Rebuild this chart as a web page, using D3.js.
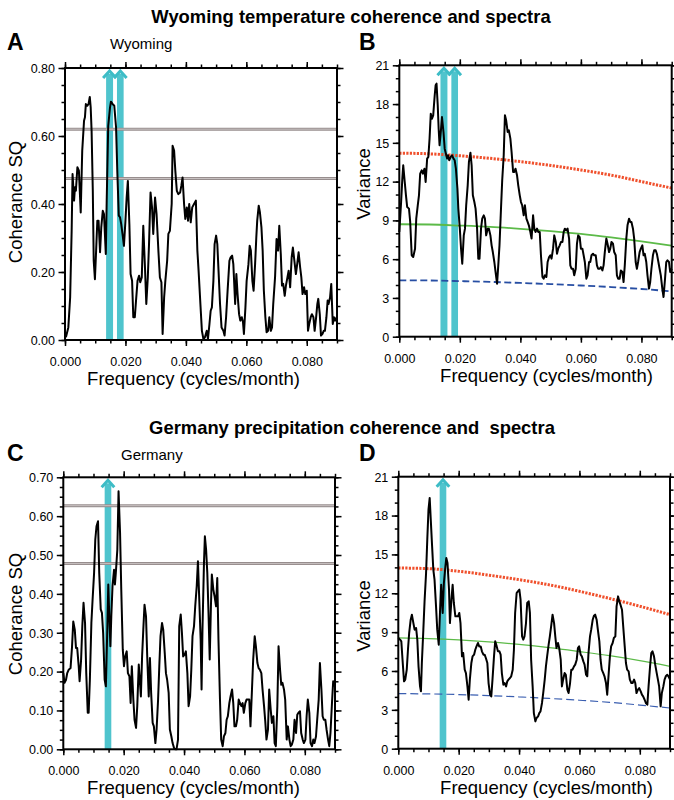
<!DOCTYPE html>
<html>
<head>
<meta charset="utf-8">
<script src="https://cdn.jsdelivr.net/npm/d3@7"></script>
<style>
  body { margin: 0; background: #fff; }
  text { font-family: "Liberation Sans", Arial, Helvetica, sans-serif; }
</style>
</head>
<body>
<div id="plot"></div>
<script>
// ---- Data: [frequency (cycles/month), value] ----
var wyoCoh = [[0.0003,0.008],[0.0011,0.037],[0.0017,0.125],[0.0022,0.321],[0.0025,0.488],[0.0030,0.410],[0.0033,0.449],[0.0036,0.439],[0.0041,0.508],[0.0046,0.498],[0.0052,0.375],[0.0057,0.557],[0.0063,0.645],[0.0066,0.655],[0.0069,0.694],[0.0074,0.689],[0.0078,0.694],[0.0082,0.715],[0.0085,0.684],[0.0088,0.615],[0.0092,0.439],[0.0095,0.233],[0.0099,0.179],[0.0103,0.263],[0.0107,0.351],[0.0111,0.351],[0.0116,0.258],[0.0120,0.331],[0.0125,0.380],[0.0129,0.370],[0.0135,0.253],[0.0138,0.410],[0.0143,0.630],[0.0149,0.684],[0.0152,0.701],[0.0158,0.694],[0.0163,0.689],[0.0169,0.625],[0.0173,0.498],[0.0178,0.366],[0.0182,0.361],[0.0186,0.341],[0.0191,0.307],[0.0195,0.277],[0.0200,0.351],[0.0204,0.419],[0.0208,0.468],[0.0213,0.341],[0.0217,0.194],[0.0222,0.174],[0.0226,0.067],[0.0231,0.067],[0.0235,0.116],[0.0240,0.174],[0.0245,0.189],[0.0249,0.170],[0.0254,0.184],[0.0259,0.336],[0.0265,0.204],[0.0269,0.106],[0.0274,0.184],[0.0278,0.282],[0.0283,0.434],[0.0288,0.390],[0.0292,0.312],[0.0298,0.419],[0.0303,0.370],[0.0309,0.263],[0.0314,0.184],[0.0319,0.170],[0.0323,0.018],[0.0328,0.125],[0.0332,0.174],[0.0338,0.233],[0.0342,0.312],[0.0347,0.321],[0.0353,0.400],[0.0356,0.571],[0.0361,0.557],[0.0365,0.498],[0.0370,0.439],[0.0375,0.429],[0.0381,0.434],[0.0385,0.454],[0.0389,0.478],[0.0394,0.400],[0.0398,0.356],[0.0403,0.390],[0.0407,0.351],[0.0411,0.400],[0.0416,0.346],[0.0421,0.390],[0.0427,0.400],[0.0433,0.410],[0.0438,0.263],[0.0442,0.204],[0.0448,0.106],[0.0453,0.027],[0.0458,0.003],[0.0463,0.008],[0.0469,0.027],[0.0473,0.003],[0.0478,0.047],[0.0482,0.086],[0.0486,0.096],[0.0491,0.174],[0.0495,0.282],[0.0500,0.307],[0.0504,0.282],[0.0508,0.204],[0.0513,0.106],[0.0518,0.037],[0.0524,0.027],[0.0528,0.013],[0.0533,0.067],[0.0538,0.145],[0.0544,0.233],[0.0548,0.243],[0.0553,0.248],[0.0557,0.223],[0.0563,0.106],[0.0567,0.194],[0.0571,0.135],[0.0576,0.076],[0.0580,0.057],[0.0585,0.067],[0.0589,0.052],[0.0592,0.018],[0.0597,0.096],[0.0601,0.174],[0.0607,0.223],[0.0611,0.277],[0.0615,0.263],[0.0620,0.174],[0.0624,0.145],[0.0629,0.223],[0.0633,0.302],[0.0636,0.351],[0.0641,0.395],[0.0645,0.375],[0.0650,0.331],[0.0654,0.263],[0.0658,0.145],[0.0663,0.067],[0.0667,0.023],[0.0672,0.027],[0.0676,0.067],[0.0681,0.027],[0.0685,0.037],[0.0689,0.106],[0.0695,0.184],[0.0700,0.297],[0.0705,0.263],[0.0709,0.336],[0.0714,0.253],[0.0718,0.160],[0.0722,0.165],[0.0727,0.130],[0.0731,0.160],[0.0736,0.184],[0.0740,0.204],[0.0745,0.155],[0.0750,0.243],[0.0754,0.272],[0.0759,0.233],[0.0764,0.194],[0.0769,0.228],[0.0773,0.258],[0.0778,0.214],[0.0782,0.184],[0.0786,0.135],[0.0791,0.155],[0.0795,0.135],[0.0800,0.145],[0.0804,0.027],[0.0808,0.047],[0.0813,0.067],[0.0817,0.076],[0.0822,0.067],[0.0826,0.027],[0.0831,0.067],[0.0835,0.106],[0.0838,0.121],[0.0843,0.076],[0.0847,0.013],[0.0852,0.018],[0.0856,0.027],[0.0860,0.027],[0.0865,0.067],[0.0869,0.116],[0.0872,0.106],[0.0877,0.125],[0.0881,0.165],[0.0886,0.047],[0.0890,0.067],[0.0894,0.057],[0.0899,0.067]];

var wyoSpec = [[0.0000,8.10],[0.0006,10.42],[0.0010,12.23],[0.0013,13.26],[0.0018,11.97],[0.0022,10.94],[0.0026,10.04],[0.0032,9.91],[0.0036,8.88],[0.0041,6.30],[0.0046,6.17],[0.0052,6.81],[0.0056,9.13],[0.0061,10.17],[0.0065,10.94],[0.0069,12.62],[0.0074,12.87],[0.0078,12.62],[0.0083,13.00],[0.0087,11.97],[0.0092,13.78],[0.0096,13.91],[0.0100,15.33],[0.0104,17.26],[0.0108,16.87],[0.0112,17.13],[0.0117,18.68],[0.0120,19.45],[0.0123,19.58],[0.0127,17.91],[0.0130,16.10],[0.0133,14.81],[0.0138,16.10],[0.0141,17.00],[0.0146,15.84],[0.0150,14.55],[0.0154,14.16],[0.0158,13.78],[0.0161,14.04],[0.0165,13.65],[0.0170,13.91],[0.0174,14.04],[0.0179,13.78],[0.0183,13.65],[0.0187,13.00],[0.0192,11.46],[0.0195,9.91],[0.0200,8.36],[0.0204,6.81],[0.0208,5.65],[0.0213,7.84],[0.0217,8.36],[0.0221,10.17],[0.0226,11.71],[0.0230,13.52],[0.0235,14.24],[0.0239,13.26],[0.0243,10.94],[0.0248,10.42],[0.0252,9.91],[0.0257,8.36],[0.0261,6.04],[0.0265,6.04],[0.0270,8.36],[0.0274,9.13],[0.0279,9.39],[0.0283,9.13],[0.0287,7.84],[0.0292,8.36],[0.0296,8.36],[0.0301,7.84],[0.0305,7.07],[0.0309,6.55],[0.0314,5.78],[0.0318,5.01],[0.0323,4.10],[0.0327,5.52],[0.0331,7.07],[0.0336,9.91],[0.0340,12.10],[0.0345,14.04],[0.0349,17.13],[0.0353,16.74],[0.0358,15.84],[0.0362,15.97],[0.0367,15.33],[0.0371,14.29],[0.0376,12.75],[0.0380,12.75],[0.0384,13.00],[0.0389,12.49],[0.0393,11.71],[0.0398,10.94],[0.0402,10.42],[0.0406,10.17],[0.0411,9.39],[0.0415,10.17],[0.0420,9.13],[0.0424,8.88],[0.0428,8.62],[0.0433,8.10],[0.0437,7.59],[0.0442,9.39],[0.0446,8.36],[0.0450,8.10],[0.0455,8.36],[0.0459,8.10],[0.0464,8.10],[0.0468,6.30],[0.0473,4.62],[0.0477,4.49],[0.0481,4.75],[0.0486,4.62],[0.0490,5.78],[0.0495,6.17],[0.0499,6.30],[0.0503,6.04],[0.0508,6.81],[0.0512,7.84],[0.0517,7.33],[0.0521,6.42],[0.0525,6.81],[0.0530,7.07],[0.0534,7.33],[0.0539,7.33],[0.0543,8.10],[0.0547,8.36],[0.0552,8.23],[0.0556,8.36],[0.0561,7.59],[0.0565,5.52],[0.0569,5.26],[0.0574,5.26],[0.0578,4.75],[0.0583,5.26],[0.0587,7.20],[0.0591,7.84],[0.0596,7.71],[0.0600,6.81],[0.0605,6.81],[0.0609,6.30],[0.0613,5.78],[0.0618,4.49],[0.0622,4.75],[0.0627,5.78],[0.0631,5.78],[0.0635,6.30],[0.0640,6.42],[0.0644,6.30],[0.0649,6.30],[0.0653,5.52],[0.0657,5.26],[0.0662,5.26],[0.0666,5.39],[0.0671,5.13],[0.0675,5.52],[0.0679,6.55],[0.0684,7.59],[0.0688,7.20],[0.0693,6.55],[0.0697,6.81],[0.0701,7.33],[0.0706,7.20],[0.0710,6.55],[0.0715,6.30],[0.0719,4.75],[0.0723,4.49],[0.0728,4.49],[0.0732,5.13],[0.0737,5.01],[0.0741,4.23],[0.0745,5.52],[0.0750,7.59],[0.0754,8.62],[0.0759,9.13],[0.0763,8.88],[0.0767,8.88],[0.0772,8.36],[0.0776,7.59],[0.0781,5.78],[0.0785,5.26],[0.0789,5.78],[0.0794,6.55],[0.0798,6.81],[0.0803,7.07],[0.0807,6.30],[0.0811,6.42],[0.0816,5.78],[0.0820,4.75],[0.0825,3.72],[0.0829,4.23],[0.0833,5.26],[0.0838,6.30],[0.0842,6.68],[0.0847,6.68],[0.0851,6.42],[0.0856,5.78],[0.0860,5.26],[0.0864,4.75],[0.0869,3.72],[0.0873,3.07],[0.0878,4.49],[0.0882,5.78],[0.0886,5.91],[0.0891,5.78],[0.0895,5.01],[0.0900,5.26]];

var gerCoh = [[0.0000,0.196],[0.0004,0.171],[0.0009,0.179],[0.0013,0.196],[0.0018,0.205],[0.0024,0.209],[0.0029,0.265],[0.0033,0.329],[0.0038,0.308],[0.0042,0.261],[0.0046,0.261],[0.0051,0.214],[0.0054,0.175],[0.0059,0.231],[0.0063,0.317],[0.0067,0.377],[0.0072,0.325],[0.0076,0.196],[0.0081,0.094],[0.0084,0.094],[0.0088,0.179],[0.0093,0.325],[0.0097,0.385],[0.0102,0.454],[0.0106,0.540],[0.0110,0.574],[0.0115,0.587],[0.0119,0.454],[0.0124,0.360],[0.0128,0.351],[0.0132,0.299],[0.0137,0.179],[0.0141,0.162],[0.0146,0.317],[0.0149,0.424],[0.0152,0.351],[0.0156,0.265],[0.0159,0.342],[0.0163,0.420],[0.0168,0.462],[0.0171,0.424],[0.0174,0.454],[0.0179,0.514],[0.0183,0.664],[0.0188,0.557],[0.0192,0.411],[0.0197,0.257],[0.0201,0.214],[0.0205,0.239],[0.0210,0.252],[0.0214,0.196],[0.0219,0.188],[0.0223,0.119],[0.0227,0.214],[0.0232,0.128],[0.0236,0.076],[0.0241,0.055],[0.0245,0.111],[0.0250,0.218],[0.0254,0.171],[0.0257,0.136],[0.0261,0.239],[0.0265,0.308],[0.0269,0.372],[0.0274,0.342],[0.0278,0.239],[0.0283,0.136],[0.0287,0.235],[0.0291,0.145],[0.0296,0.068],[0.0300,0.059],[0.0305,0.016],[0.0309,0.051],[0.0314,0.128],[0.0318,0.214],[0.0322,0.291],[0.0327,0.325],[0.0331,0.308],[0.0336,0.248],[0.0340,0.196],[0.0344,0.179],[0.0349,0.145],[0.0353,0.051],[0.0358,0.033],[0.0362,0.016],[0.0367,0.003],[0.0371,0.000],[0.0375,0.000],[0.0380,0.025],[0.0384,0.317],[0.0389,0.347],[0.0393,0.299],[0.0397,0.239],[0.0402,0.244],[0.0406,0.252],[0.0411,0.196],[0.0415,0.111],[0.0420,0.136],[0.0424,0.205],[0.0428,0.291],[0.0433,0.317],[0.0437,0.368],[0.0442,0.420],[0.0446,0.484],[0.0450,0.394],[0.0455,0.282],[0.0458,0.154],[0.0461,0.308],[0.0466,0.480],[0.0469,0.548],[0.0473,0.514],[0.0477,0.454],[0.0481,0.351],[0.0485,0.231],[0.0489,0.368],[0.0492,0.450],[0.0497,0.411],[0.0501,0.394],[0.0506,0.368],[0.0510,0.441],[0.0514,0.282],[0.0519,0.128],[0.0523,0.025],[0.0528,0.008],[0.0532,0.033],[0.0537,0.042],[0.0541,0.076],[0.0545,0.085],[0.0550,0.119],[0.0554,0.136],[0.0559,0.154],[0.0563,0.119],[0.0567,0.059],[0.0572,0.059],[0.0576,0.076],[0.0581,0.128],[0.0585,0.119],[0.0590,0.111],[0.0594,0.119],[0.0598,0.094],[0.0603,0.119],[0.0607,0.128],[0.0612,0.128],[0.0616,0.128],[0.0620,0.059],[0.0625,0.154],[0.0629,0.231],[0.0634,0.291],[0.0638,0.265],[0.0643,0.222],[0.0647,0.209],[0.0651,0.205],[0.0656,0.196],[0.0660,0.154],[0.0665,0.111],[0.0669,0.072],[0.0673,0.025],[0.0678,0.051],[0.0682,0.154],[0.0687,0.102],[0.0691,0.068],[0.0696,0.085],[0.0700,0.016],[0.0704,0.008],[0.0709,0.111],[0.0713,0.265],[0.0718,0.205],[0.0722,0.166],[0.0726,0.171],[0.0731,0.154],[0.0735,0.128],[0.0740,0.025],[0.0744,0.059],[0.0749,0.025],[0.0753,0.008],[0.0757,0.012],[0.0762,0.025],[0.0766,0.076],[0.0771,0.042],[0.0775,0.089],[0.0779,0.094],[0.0784,0.098],[0.0788,0.042],[0.0793,0.025],[0.0797,0.016],[0.0802,0.025],[0.0806,0.085],[0.0810,0.128],[0.0815,0.094],[0.0819,0.016],[0.0824,0.008],[0.0828,0.025],[0.0832,0.016],[0.0837,0.033],[0.0841,0.076],[0.0846,0.128],[0.0850,0.222],[0.0855,0.154],[0.0859,0.085],[0.0863,0.076],[0.0868,0.076],[0.0872,0.051],[0.0877,0.025],[0.0881,0.008],[0.0885,0.042],[0.0890,0.119],[0.0894,0.175],[0.0899,0.162]];

var gerSpec = [[0.0000,8.55],[0.0006,8.42],[0.0010,8.29],[0.0014,6.87],[0.0019,5.20],[0.0023,5.33],[0.0028,6.10],[0.0032,7.64],[0.0036,8.93],[0.0041,9.96],[0.0045,10.35],[0.0050,9.70],[0.0054,9.19],[0.0059,9.32],[0.0063,8.42],[0.0067,6.36],[0.0072,4.81],[0.0075,4.43],[0.0078,6.62],[0.0083,9.19],[0.0087,11.38],[0.0092,13.56],[0.0096,16.14],[0.0100,18.46],[0.0104,19.36],[0.0107,17.94],[0.0112,15.62],[0.0116,13.82],[0.0120,13.05],[0.0125,10.99],[0.0129,9.19],[0.0134,8.03],[0.0138,10.48],[0.0142,12.66],[0.0147,10.48],[0.0151,12.79],[0.0156,14.08],[0.0159,14.72],[0.0163,14.34],[0.0168,12.28],[0.0171,9.70],[0.0176,11.51],[0.0180,12.66],[0.0184,11.25],[0.0189,10.22],[0.0193,10.22],[0.0198,10.22],[0.0202,10.48],[0.0206,9.70],[0.0211,7.13],[0.0215,7.39],[0.0220,6.10],[0.0224,5.84],[0.0229,4.81],[0.0233,3.78],[0.0237,5.33],[0.0242,6.62],[0.0246,7.13],[0.0251,7.26],[0.0255,7.64],[0.0259,7.90],[0.0264,8.16],[0.0268,7.90],[0.0273,7.90],[0.0277,7.52],[0.0282,7.26],[0.0286,7.26],[0.0290,7.00],[0.0295,6.62],[0.0299,5.07],[0.0304,4.17],[0.0308,4.04],[0.0312,5.33],[0.0317,7.13],[0.0321,8.29],[0.0326,7.90],[0.0330,7.52],[0.0335,7.52],[0.0339,7.26],[0.0343,5.84],[0.0348,4.94],[0.0352,5.07],[0.0357,4.81],[0.0361,5.20],[0.0365,5.33],[0.0370,5.46],[0.0374,5.59],[0.0379,6.10],[0.0383,7.64],[0.0387,10.48],[0.0392,12.02],[0.0396,12.15],[0.0401,12.28],[0.0405,11.51],[0.0410,8.67],[0.0414,8.42],[0.0418,8.67],[0.0423,9.70],[0.0427,11.25],[0.0432,11.38],[0.0436,10.48],[0.0440,6.87],[0.0445,4.81],[0.0449,2.75],[0.0454,2.11],[0.0458,2.37],[0.0463,2.50],[0.0467,2.75],[0.0471,2.88],[0.0476,3.53],[0.0480,4.30],[0.0485,5.33],[0.0489,6.36],[0.0493,7.13],[0.0498,8.03],[0.0502,8.67],[0.0507,9.58],[0.0511,10.35],[0.0516,9.70],[0.0520,8.67],[0.0524,7.77],[0.0529,8.16],[0.0533,7.77],[0.0538,6.87],[0.0542,4.81],[0.0546,5.33],[0.0551,5.84],[0.0555,5.71],[0.0560,4.56],[0.0564,4.30],[0.0569,5.07],[0.0573,6.10],[0.0577,6.10],[0.0582,6.36],[0.0586,6.49],[0.0591,6.87],[0.0595,7.77],[0.0599,7.90],[0.0604,7.26],[0.0608,7.13],[0.0613,6.74],[0.0617,6.49],[0.0622,5.71],[0.0626,5.59],[0.0630,7.39],[0.0635,8.67],[0.0639,9.19],[0.0644,9.96],[0.0648,10.27],[0.0652,10.35],[0.0657,9.96],[0.0661,9.19],[0.0666,8.29],[0.0670,6.87],[0.0674,6.10],[0.0679,5.84],[0.0683,5.59],[0.0688,5.07],[0.0692,4.17],[0.0697,5.84],[0.0701,7.13],[0.0705,7.90],[0.0710,8.16],[0.0714,8.55],[0.0719,8.67],[0.0723,10.99],[0.0728,11.76],[0.0732,11.38],[0.0736,11.12],[0.0741,10.73],[0.0745,9.45],[0.0750,7.90],[0.0754,6.62],[0.0758,6.10],[0.0763,5.97],[0.0767,5.33],[0.0772,5.07],[0.0776,5.07],[0.0781,5.33],[0.0785,5.07],[0.0789,4.30],[0.0794,4.56],[0.0798,4.68],[0.0803,4.43],[0.0807,4.17],[0.0811,4.04],[0.0816,3.78],[0.0820,3.53],[0.0825,3.40],[0.0829,4.81],[0.0834,6.36],[0.0838,7.39],[0.0842,7.52],[0.0847,7.13],[0.0851,6.49],[0.0856,5.84],[0.0860,5.33],[0.0864,4.81],[0.0869,3.27],[0.0873,4.30],[0.0878,4.81],[0.0882,5.33],[0.0886,5.59],[0.0891,5.71],[0.0895,5.59],[0.0900,5.33]];

// Reference (confidence / red-noise) curves, sampled at these frequencies
var refFreq   = [0, 0.01, 0.02, 0.03, 0.04, 0.05, 0.06, 0.07, 0.08, 0.09];
var wyoRed    = [14.2, 14.15, 14.0, 13.8, 13.55, 13.25, 12.9, 12.5, 12.0, 11.5];
var wyoGreen  = [8.7, 8.68, 8.6, 8.5, 8.35, 8.17, 7.95, 7.68, 7.38, 7.04];
var wyoBlue   = [4.36, 4.35, 4.3, 4.24, 4.16, 4.07, 3.96, 3.84, 3.69, 3.51];
var gerRed    = [13.95, 13.9, 13.7, 13.4, 13.05, 12.65, 12.15, 11.6, 11.0, 10.35];
var gerGreen  = [8.55, 8.5, 8.4, 8.25, 8.05, 7.8, 7.5, 7.18, 6.8, 6.36];
var gerBlue   = [4.25, 4.23, 4.18, 4.1, 4.0, 3.88, 3.74, 3.58, 3.37, 3.14];

// Coherence significance levels
var wyoLevels = [0.62, 0.475];
var gerLevels = [0.627, 0.478];

// Highlighted frequency bands [from, to]
var wyoBands = [[0.0136, 0.0159], [0.0172, 0.0194]];
var gerBands = [[0.0137, 0.0159]];

// Tick values
var freqTicks = [0, 0.02, 0.04, 0.06, 0.08];
var cohTicksA = [0, 0.2, 0.4, 0.6, 0.8];
var cohTicksC = [0, 0.1, 0.2, 0.3, 0.4, 0.5, 0.6, 0.7];
var varTicks  = [0, 3, 6, 9, 12, 15, 18, 21];

var svg = d3.select("#plot")
  .append("svg")
    .attr("width", 674)
    .attr("height", 800);

function drawPanel(p) {
  var x = d3.scaleLinear().domain([0, 0.09]).range([p.left, p.right]);
  var y = d3.scaleLinear().domain([0, p.ymax]).range([p.bottom, p.top]);
  var g = svg.append("g");

  // cyan bands with arrow heads
  p.bands.forEach(function(b) {
    var xl = x(b[0]), xr = x(b[1]), xc = (xl + xr) / 2;
    g.append("rect")
      .attr("x", xl).attr("y", p.top + 6)
      .attr("width", xr - xl).attr("height", p.bottom - p.top - 6)
      .attr("fill", "#4fc4cd");
    g.append("path")
      .attr("d", `M${xl - 3},${p.top + 10}L${xc},${p.top + 3}L${xr + 3},${p.top + 10}`)
      .attr("fill", "none")
      .attr("stroke", "#3dbcc6")
      .attr("stroke-width", 3);
  });

  // significance levels (coherence)
  (p.levels || []).forEach(function(l) {
    g.append("line").attr("x1", p.left).attr("x2", p.right)
      .attr("y1", y(l)).attr("y2", y(l))
      .attr("stroke", "#978e8e").attr("stroke-width", 3);
    g.append("line").attr("x1", p.left).attr("x2", p.right)
      .attr("y1", y(l)).attr("y2", y(l))
      .attr("stroke", "#cdc6c6").attr("stroke-width", 0.9);
  });

  // reference curves (spectra)
  var refLine = d3.line()
    .x((d, i) => x(refFreq[i]))
    .y(d => y(d))
    .curve(d3.curveMonotoneX);
  (p.refs || []).forEach(function(r) {
    g.append("path")
      .attr("d", refLine(r.values))
      .attr("fill", "none")
      .attr("stroke", r.color)
      .attr("stroke-width", r.width)
      .attr("stroke-dasharray", r.dash || null);
  });

  // main curve
  var line = d3.line().x(d => x(d[0])).y(d => y(d[1]));
  g.append("path")
    .attr("d", line(p.data))
    .attr("fill", "none")
    .attr("stroke", "#000")
    .attr("stroke-width", 2)
    .attr("stroke-linejoin", "round");

  // axes on all four sides, outward ticks
  var minorX = d3.range(0, 0.0901, 0.005);
  var minorY = d3.range(0, p.ymax + 1e-9, p.yminor);

  function styleAxis(sel) {
    sel.select(".domain").remove();
    sel.selectAll("line").attr("stroke", "#000").attr("stroke-width", 1.5);
  }

  g.append("g").attr("transform", `translate(0,${p.bottom})`)
    .call(d3.axisBottom(x).tickValues(minorX).tickSize(3.5).tickFormat(""))
    .call(styleAxis);
  g.append("g").attr("transform", `translate(0,${p.bottom})`)
    .call(d3.axisBottom(x).tickValues(freqTicks).tickSize(6).tickFormat(d3.format(".3f")))
    .call(styleAxis)
    .call(s => s.selectAll("text").attr("y", 26).attr("dy", 0)
      .style("font-size", "12.5px").attr("fill", "#000"));

  g.append("g").attr("transform", `translate(0,${p.top})`)
    .call(d3.axisTop(x).tickValues(minorX).tickSize(3.5).tickFormat(""))
    .call(styleAxis);
  g.append("g").attr("transform", `translate(0,${p.top})`)
    .call(d3.axisTop(x).tickValues(freqTicks).tickSize(6).tickFormat(""))
    .call(styleAxis);

  g.append("g").attr("transform", `translate(${p.left},0)`)
    .call(d3.axisLeft(y).tickValues(minorY).tickSize(3.5).tickFormat(""))
    .call(styleAxis);
  g.append("g").attr("transform", `translate(${p.left},0)`)
    .call(d3.axisLeft(y).tickValues(p.yticks).tickSize(6.5).tickFormat(p.yfmt))
    .call(styleAxis)
    .call(s => s.selectAll("text").attr("x", -10).attr("dy", "0.35em")
      .style("font-size", "12.5px").attr("fill", "#000"));

  g.append("g").attr("transform", `translate(${p.right},0)`)
    .call(d3.axisRight(y).tickValues(minorY).tickSize(3.5).tickFormat(""))
    .call(styleAxis);
  g.append("g").attr("transform", `translate(${p.right},0)`)
    .call(d3.axisRight(y).tickValues(p.yticks).tickSize(6.5).tickFormat(""))
    .call(styleAxis);

  // frame
  g.append("rect")
    .attr("x", p.left).attr("y", p.top)
    .attr("width", p.right - p.left).attr("height", p.bottom - p.top)
    .attr("fill", "none").attr("stroke", "#000").attr("stroke-width", 2);

  // labels
  g.append("text")
    .attr("x", p.xlabelX).attr("y", p.bottom + 45)
    .attr("text-anchor", "middle")
    .style("font-size", "18.5px")
    .text("Frequency (cycles/month)");
  g.append("text")
    .attr("transform", `translate(${p.ylabelX},${p.ylabelY}) rotate(-90)`)
    .attr("text-anchor", "middle")
    .style("font-size", "18.5px")
    .text(p.ylabel);
  g.append("text")
    .attr("x", p.letterX).attr("y", p.letterY)
    .style("font-size", "23px").style("font-weight", "bold")
    .text(p.letter);
  if (p.name) {
    g.append("text")
      .attr("x", p.nameX).attr("y", p.letterY - 1)
      .style("font-size", "15px")
      .text(p.name);
  }
}

var fmt2 = d3.format(".2f");
var fmtInt = d3.format("d");

drawPanel({left: 65, right: 337, top: 68, bottom: 340, ymax: 0.8, yminor: 0.05,
  yticks: cohTicksA, yfmt: fmt2, data: wyoCoh, levels: wyoLevels, bands: wyoBands,
  xlabelX: 193.5, ylabelX: 22, ylabelY: 202, ylabel: "Coherance SQ",
  letter: "A", letterX: 7, letterY: 50, name: "Wyoming", nameX: 110});

drawPanel({left: 399.3, right: 671.7, top: 65.3, bottom: 336.7, ymax: 21, yminor: 1,
  yticks: varTicks, yfmt: fmtInt, data: wyoSpec, bands: wyoBands,
  refs: [
    {values: wyoRed, color: "#f0502c", width: 3, dash: "2.2,1.3"},
    {values: wyoGreen, color: "#5cba48", width: 1.8},
    {values: wyoBlue, color: "#274ea3", width: 1.8, dash: "7,3.5"}
  ],
  xlabelX: 546.5, ylabelX: 370, ylabelY: 184, ylabel: "Variance",
  letter: "B", letterX: 359, letterY: 50});

drawPanel({left: 63.3, right: 335, top: 477.3, bottom: 749.3, ymax: 0.7, yminor: 0.025,
  yticks: cohTicksC, yfmt: fmt2, data: gerCoh, levels: gerLevels, bands: gerBands,
  xlabelX: 193.5, ylabelX: 22, ylabelY: 614, ylabel: "Coherance SQ",
  letter: "C", letterX: 7, letterY: 461, name: "Germany", nameX: 121});

drawPanel({left: 398.3, right: 670, top: 476.7, bottom: 748.7, ymax: 21, yminor: 1,
  yticks: varTicks, yfmt: fmtInt, data: gerSpec, bands: gerBands,
  refs: [
    {values: gerRed, color: "#f0502c", width: 3, dash: "2.2,1.3"},
    {values: gerGreen, color: "#5cba48", width: 1.2},
    {values: gerBlue, color: "#3a5eb0", width: 1.2, dash: "8,4"}
  ],
  xlabelX: 546.5, ylabelX: 370, ylabelY: 616, ylabel: "Variance",
  letter: "D", letterX: 359, letterY: 461});

// Section titles
svg.append("text")
  .attr("x", 351).attr("y", 23)
  .attr("text-anchor", "middle")
  .style("font-size", "18.4px").style("font-weight", "bold")
  .text("Wyoming temperature coherence and spectra");
svg.append("text")
  .attr("x", 352).attr("y", 434)
  .attr("text-anchor", "middle")
  .style("font-size", "18.4px").style("font-weight", "bold")
  .style("white-space", "pre")
  .text("Germany precipitation coherence and  spectra");
</script>
</body>
</html>
